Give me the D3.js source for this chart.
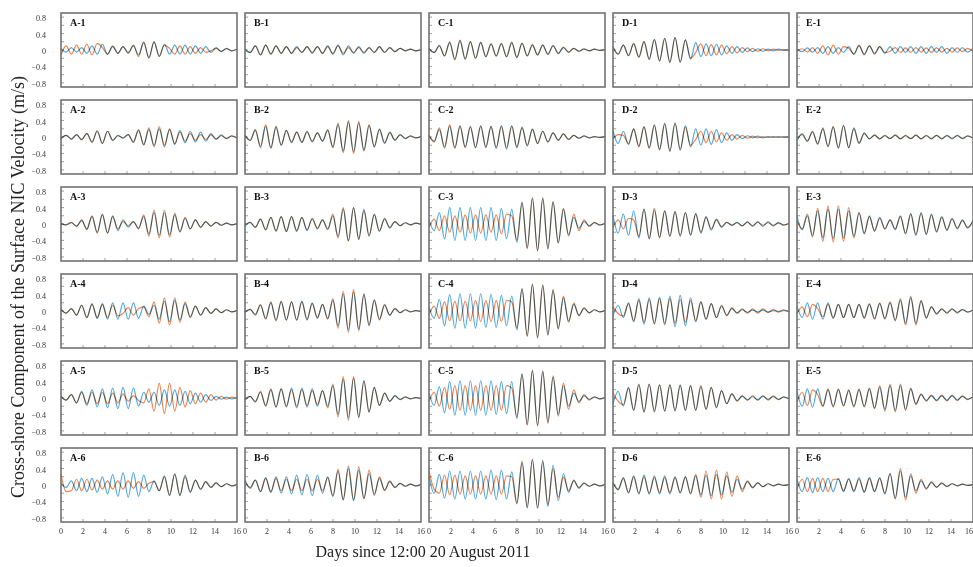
<!DOCTYPE html>
<html>
<head>
<meta charset="utf-8">
<script src="https://cdn.jsdelivr.net/npm/d3@7"></script>
<style>
  body { margin: 0; background: #fff; }
  svg { display: block; }
  text { font-family: "Liberation Serif", "Times New Roman", serif; }
</style>
</head>
<body>
<div id="chart"></div>
<script>
const columns = ['A', 'B', 'C', 'D', 'E'];
const rowNums = [1, 2, 3, 4, 5, 6];
const xTicks = [0, 2, 4, 6, 8, 10, 12, 14, 16];
const yTicks = [0.8, 0.4, 0, -0.4, -0.8];
const yMinorTicks = [0.8, 0.6, 0.4, 0.2, 0, -0.2, -0.4, -0.6, -0.8];

// times (days) of successive crests / troughs, shared by all series
const days = [0, 0.47, 0.94, 1.41, 1.88, 2.35, 2.82, 3.29, 3.76, 4.23, 4.7, 5.17, 5.64, 6.11, 6.58, 7.05, 7.52, 7.99,
  8.46, 8.93, 9.4, 9.87, 10.34, 10.81, 11.28, 11.75, 12.22, 12.69, 13.16, 13.63, 14.1, 14.57, 15.04, 15.51, 15.98];

// crest / trough values in cm/s
const A1_blue = [4,-5,6,-5,6,-8,10,-10,14,-10,8,-8,8,-6,10,-12,18,-18,20,-15,14,-10,12,-10,12,-10,10,-8,8,-6,6,-4,4,-2,2];
const A1_orange = [-12,10,-10,12,-10,14,-12,16,6,-10,10,-8,8,-8,12,-16,20,-20,20,-16,12,4,-10,10,-10,8,-8,6,-6,-2,4,-3,3,-2,2];
const B1_blue = [3,-6,10,-12,12,-10,10,-8,8,-8,8,-6,8,-8,8,-8,10,-10,12,-12,10,-8,8,-8,6,-6,8,-6,6,-4,4,-2,2,-2,1];
const B1_orange = [-2,-6,10,-12,12,-10,10,-8,8,-8,6,-6,8,-6,8,-8,8,-8,10,-8,6,-6,6,-6,6,-6,8,-6,6,-4,4,-2,2,-2,1];
const C1_blue = [3,-6,10,-14,18,-22,22,-22,20,-20,18,-16,15,-14,15,-16,18,-18,16,-14,12,-12,12,-10,10,-8,6,-5,4,-3,2,-2,2,-1,1];
const C1_orange = [4,-6,11,-15,20,-24,24,-22,21,-20,19,-17,15,-15,16,-17,19,-18,17,-15,13,-12,12,-11,11,-9,7,-6,4,-3,3,-2,2,-1,1];
const D1_blue = [8,-10,12,-14,15,-17,20,-22,25,-26,28,-30,30,-30,25,-22,18,-16,15,-14,14,-12,10,-8,8,-6,5,-4,3,-3,2,-2,2,-1,1];
const D1_orange = [6,-10,12,-13,16,-18,21,-23,26,-27,29,-30,31,-29,24,-20,-6,15,-14,13,-12,12,-9,8,-7,6,-4,4,-3,3,-2,2,-1,1,-1];
const E1_blue = [2,-4,5,-5,6,-8,8,-8,6,-6,8,-10,10,-10,10,-8,8,-8,8,-8,8,-6,8,-8,8,-8,8,-6,8,-8,6,-6,6,-5,4];
const E1_orange = [-2,3,-5,6,-8,10,-12,12,-10,8,4,-10,12,-12,10,-10,8,-6,-3,6,-6,5,-6,6,-5,5,-6,5,-5,4,-5,5,-4,4,-3];

const A2_blue = [-4,4,-5,5,-6,8,-12,14,-15,14,-8,4,-3,6,-12,16,-18,18,-20,20,-20,18,-18,16,-14,14,-12,12,-10,8,-6,5,-4,3,-2];
const A2_orange = [-3,4,-5,6,-7,9,-13,15,-16,14,-8,3,-2,6,-13,18,-20,22,-24,25,-24,20,-16,12,-10,8,-8,6,-6,5,-4,3,-3,2,-2];
const B2_blue = [4,-8,16,-22,26,-26,24,-20,16,-14,12,-14,14,-12,10,-10,16,-24,30,-34,36,-36,34,-32,28,-24,20,-16,12,-8,6,-4,3,-2,1];
const B2_orange = [4,-8,18,-26,30,-28,26,-20,16,-12,12,-12,12,-10,10,-10,18,-26,34,-38,40,-40,38,-34,30,-24,18,-14,10,-7,5,-3,2,-2,1];
const C2_blue = [3,-10,18,-24,26,-26,26,-24,24,-26,26,-24,26,-28,28,-30,28,-26,24,-22,20,-16,14,-12,10,-8,7,-6,4,-3,2,-2,1,-1,1];
const C2_orange = [4,-12,22,-28,30,-28,28,-26,26,-26,28,-26,26,-26,26,-26,26,-24,22,-20,18,-16,14,-12,10,-8,8,-6,4,-3,3,-2,1,-1,1];
const D2_blue = [14,-16,14,-18,20,-22,24,-26,28,-30,32,-34,34,-32,28,-24,20,-20,20,-18,18,-14,10,-8,6,-4,3,-2,2,-2,1,-1,1,-1,1];
const D2_orange = [-4,6,4,-16,20,-24,26,-28,30,-32,34,-35,34,-30,24,-20,-6,14,-14,14,-12,10,-8,6,-5,4,-3,2,-2,1,-1,1,-1,1,-1];
const E2_blue = [-10,8,-10,12,-16,20,-22,24,-26,28,-26,22,-16,10,-5,4,-4,3,-4,4,-4,3,-4,4,-4,3,-5,4,-5,4,-5,4,-4,3,-3];
const E2_orange = [-4,6,-10,14,-18,22,-24,26,-28,28,-26,20,-14,8,-4,5,-5,4,-4,5,-5,4,-4,5,-5,4,-4,4,-4,3,-3,3,-3,2,-2];

const A3_blue = [1,-2,3,-5,8,-12,18,-20,22,-22,20,-16,10,-8,6,-10,18,-24,28,-28,28,-26,22,-18,14,-12,10,-8,6,-5,4,-3,2,-2,1];
const A3_orange = [1,-2,4,-6,10,-14,20,-22,24,-22,18,-12,6,-4,6,-12,22,-30,34,-34,34,-32,26,-20,16,-12,10,-8,6,-5,4,-3,2,-2,1];
const B3_blue = [-5,4,-8,12,-14,16,-16,18,-18,18,-18,16,-16,14,-12,10,-12,20,-30,36,-40,40,-38,36,-30,24,-18,14,-10,6,-4,3,-2,2,-1];
const B3_orange = [-2,4,-8,12,-14,16,-18,18,-18,18,-16,16,-14,12,-10,10,-14,24,-34,40,-42,40,-36,32,-28,22,-16,12,-8,6,-4,3,-2,2,-1];
const C3_blue = [10,-16,28,-36,40,-40,40,-40,40,-40,40,-40,40,-40,38,-36,36,-44,52,-58,62,-64,62,-60,54,-46,36,-26,16,-10,6,-4,3,-2,1];
const C3_orange = [-8,12,-16,20,-20,20,-20,22,-22,22,-22,22,-20,22,-24,24,20,-40,52,-60,64,-66,64,-60,54,-46,38,-30,24,-16,10,-6,4,-3,2];
const D3_blue = [20,-22,24,-28,32,-34,36,-36,34,-32,32,-30,30,-30,28,-28,26,-22,18,-15,12,-8,4,-3,4,-5,6,-6,6,-6,6,-5,4,-3,2];
const D3_orange = [-8,10,-12,14,10,-30,36,-36,38,-34,32,-30,30,-28,28,-26,24,-20,16,-12,10,-6,4,-3,3,-4,4,-4,4,-3,3,-3,2,-2,1];
const E3_blue = [18,-14,20,-28,32,-34,36,-36,36,-34,32,-30,28,-24,20,-18,16,-12,10,-14,20,-24,26,-28,28,-26,24,-20,18,-16,14,-12,10,-10,8];
const E3_orange = [8,-12,24,-32,38,-42,44,-44,44,-42,40,-34,28,-22,18,-16,14,-12,10,-12,18,-22,24,-26,26,-24,22,-18,16,-14,12,-10,8,-8,6];

const A4_blue = [4,-5,6,-10,14,-16,18,-18,18,-20,20,-20,20,-20,20,-18,12,-8,14,-20,24,-26,26,-22,18,-14,12,-10,8,-6,5,-4,3,-2,1];
const A4_orange = [4,-5,6,-10,14,-16,16,-16,16,-16,14,-12,-6,8,-10,6,10,-14,22,-30,32,-34,32,-28,22,-16,12,-10,8,-6,5,-4,3,-2,1];
const B4_blue = [-3,4,-8,14,-18,20,-22,22,-22,22,-22,24,-22,20,-18,16,-18,26,-36,42,-46,46,-44,40,-34,26,-20,14,-10,6,-4,3,-2,1,-1];
const B4_orange = [-2,4,-10,16,-20,22,-24,24,-22,22,-22,22,-20,18,-16,16,-20,30,-42,48,-52,52,-48,42,-36,28,-22,16,-10,6,-4,3,-2,1,-1];
const C4_blue = [10,-18,28,-36,40,-42,42,-42,42,-42,42,-40,40,-40,38,-36,36,-46,54,-60,64,-64,62,-58,50,-42,32,-24,16,-10,6,-4,3,-2,1];
const C4_orange = [-8,12,-18,22,-24,24,-24,24,-24,26,-26,26,-26,26,-26,26,22,-42,54,-62,66,-66,64,-58,52,-44,36,-28,20,-12,8,-5,3,-2,1];
const D4_blue = [-12,14,-16,20,-26,30,-32,32,-32,34,-34,36,-38,38,-36,32,-26,22,-20,18,-16,12,-10,6,-4,3,-3,2,-2,2,-2,1,-1,1,-1];
const D4_orange = [10,-6,-12,18,-24,26,-28,28,-30,30,-30,30,-30,28,-28,26,-24,22,-20,18,-16,14,-12,8,-6,5,-5,5,-5,5,-4,4,-3,3,-2];
const E4_blue = [12,-16,20,-20,20,-20,20,-18,16,-16,16,-16,16,-16,16,-18,18,-18,20,-22,26,-30,32,-30,24,-16,10,-8,6,-6,6,-5,4,-3,2];
const E4_orange = [-6,10,-14,16,6,-14,16,-16,16,-16,16,-16,16,-18,18,-20,20,-20,22,-24,30,-34,36,-34,26,-18,10,-6,4,-4,4,-3,3,-2,2];

const A5_blue = [4,-5,8,-12,16,-18,20,-22,22,-24,24,-26,26,-26,24,-20,14,-10,14,-18,20,-20,20,-18,16,-14,12,-10,8,-6,4,-3,2,-2,1];
const A5_orange = [3,-5,8,-12,14,-14,14,-14,14,-14,12,-12,10,-8,6,-6,-12,22,-32,36,-38,36,-32,26,-22,18,-14,12,-10,8,-5,4,-3,2,-1];
const B5_blue = [-6,4,-8,14,-18,20,-22,22,-22,24,-24,24,-22,22,-20,18,-20,30,-40,46,-48,48,-46,42,-34,26,-18,12,-8,6,-4,3,-2,1,-1];
const B5_orange = [-3,4,-10,16,-20,22,-22,22,-20,20,-20,20,-18,18,-16,18,-24,34,-46,52,-54,52,-48,42,-34,26,-18,12,-8,5,-3,2,-2,1,-1];
const C5_blue = [12,-18,28,-36,40,-42,42,-42,42,-42,42,-42,42,-40,40,-38,40,-50,58,-64,66,-66,64,-58,50,-40,30,-20,12,-8,5,-3,2,-2,1];
const C5_orange = [-8,14,-20,26,-28,30,-30,30,-30,30,-30,30,-30,30,-30,30,24,-46,58,-66,68,-68,66,-62,54,-44,36,-28,20,-12,8,-5,3,-2,1];
const D5_blue = [-14,16,-20,26,-30,34,-34,34,-32,32,-32,32,-32,32,-30,30,-30,28,-28,26,-24,18,-14,10,-6,4,-4,3,-4,4,-3,3,-3,2,-2];
const D5_orange = [12,-8,-16,24,-30,32,-34,34,-34,32,-32,32,-30,30,-30,30,-30,30,-28,26,-22,18,-14,10,-8,6,-6,6,-6,6,-5,5,-4,3,-2];
const E5_blue = [16,-20,22,-22,22,-20,20,-20,20,-18,18,-20,20,-20,22,-24,26,-28,30,-30,30,-28,22,-14,8,-6,5,-5,5,-5,5,-5,4,-3,2];
const E5_orange = [-10,14,-18,20,8,-20,22,-22,22,-20,20,-22,22,-22,24,-26,30,-32,34,-34,34,-30,24,-16,10,-8,7,-7,7,-7,7,-6,5,-4,3];

const A6_blue = [4,-6,10,-14,16,-16,16,-18,20,-22,26,-28,30,-30,30,-28,24,-16,10,-14,22,-26,28,-26,24,-18,12,-10,8,-6,5,-4,3,-2,1];
const A6_orange = [26,-16,-14,14,-14,14,-12,12,-10,10,-10,10,-10,10,-8,8,-8,4,8,-14,20,-24,26,-24,20,-16,12,-10,8,-6,5,-4,3,-2,1];
const B6_blue = [12,-8,12,-16,18,-18,20,-20,20,-22,24,-24,26,-26,24,-20,20,-28,34,-36,40,-38,36,-32,28,-22,16,-12,8,-6,4,-3,2,-2,1];
const B6_orange = [8,-6,12,-16,16,-16,16,-14,14,-14,14,-14,14,-14,14,-14,18,-26,38,-36,46,-36,44,-34,36,-26,20,-14,10,-6,4,-3,2,-2,1];
const C6_blue = [20,-20,26,-32,34,-34,34,-34,34,-34,34,-34,36,-36,36,-34,32,-44,54,-56,62,-56,60,-52,48,-38,28,-18,12,-8,5,-3,2,-2,1];
const C6_orange = [34,-10,-20,24,-24,24,-22,22,-22,22,-22,22,-22,22,-22,22,20,-46,58,-54,62,-56,56,-48,40,-30,20,-14,10,-6,4,-3,2,-2,1];
const D6_blue = [6,-12,18,-20,22,-22,24,-22,22,-22,22,-22,20,-20,20,-20,22,-24,24,-26,26,-24,22,-18,14,-10,8,-6,5,-4,3,-2,2,-1,1];
const D6_orange = [4,-10,16,-18,20,-20,20,-20,18,-18,18,-18,18,-18,20,-22,26,-30,34,-34,36,-34,32,-28,22,-16,10,-7,5,-4,3,-2,2,-1,1];
const E6_blue = [14,-16,18,-18,18,-16,16,-16,16,-16,16,-16,18,-18,18,-16,18,-22,28,-32,34,-30,22,-14,10,-8,6,-5,4,-3,3,-2,2,-1,1];
const E6_orange = [-10,14,-16,16,-16,16,-16,14,14,-14,14,-14,14,-16,16,-16,16,-20,28,-34,40,-36,28,-20,14,-10,8,-6,5,-4,3,-2,2,-1,1];

const panelSeries = {
  'A-1': [A1_blue, A1_orange], 'B-1': [B1_blue, B1_orange], 'C-1': [C1_blue, C1_orange], 'D-1': [D1_blue, D1_orange], 'E-1': [E1_blue, E1_orange],
  'A-2': [A2_blue, A2_orange], 'B-2': [B2_blue, B2_orange], 'C-2': [C2_blue, C2_orange], 'D-2': [D2_blue, D2_orange], 'E-2': [E2_blue, E2_orange],
  'A-3': [A3_blue, A3_orange], 'B-3': [B3_blue, B3_orange], 'C-3': [C3_blue, C3_orange], 'D-3': [D3_blue, D3_orange], 'E-3': [E3_blue, E3_orange],
  'A-4': [A4_blue, A4_orange], 'B-4': [B4_blue, B4_orange], 'C-4': [C4_blue, C4_orange], 'D-4': [D4_blue, D4_orange], 'E-4': [E4_blue, E4_orange],
  'A-5': [A5_blue, A5_orange], 'B-5': [B5_blue, B5_orange], 'C-5': [C5_blue, C5_orange], 'D-5': [D5_blue, D5_orange], 'E-5': [E5_blue, E5_orange],
  'A-6': [A6_blue, A6_orange], 'B-6': [B6_blue, B6_orange], 'C-6': [C6_blue, C6_orange], 'D-6': [D6_blue, D6_orange], 'E-6': [E6_blue, E6_orange]
};
const lineColors = ['#52a9e2', '#f2844f'];

const width = 973, height = 567;
const left0 = 61, top0 = 13, colStep = 184, rowStep = 87;
const pw = 176, ph = 74;

const svg = d3.select('#chart').append('svg')
  .attr('width', width)
  .attr('height', height);

const x = d3.scaleLinear().domain([0, 16]).range([0, pw]);
const y = d3.scaleLinear().domain([-0.9, 0.9]).range([ph, 0]);

const line = d3.line()
  .x((d, i) => x(days[i]))
  .y(d => y(d / 100))
  .curve(d3.curveMonotoneX);

rowNums.forEach((r, ri) => {
  columns.forEach((c, ci) => {
    const key = c + '-' + r;
    const g = svg.append('g')
      .attr('transform', 'translate(' + (left0 + ci * colStep) + ',' + (top0 + ri * rowStep) + ')');

    // inward ticks
    g.selectAll('.xt').data(xTicks.slice(1, -1)).enter().append('line')
      .attr('x1', d => x(d)).attr('x2', d => x(d))
      .attr('y1', ph).attr('y2', ph - 3)
      .attr('stroke', '#888').attr('stroke-width', 0.8);
    g.selectAll('.yt').data(yMinorTicks).enter().append('line')
      .attr('x1', 0).attr('x2', 3)
      .attr('y1', d => y(d)).attr('y2', d => y(d))
      .attr('stroke', '#888').attr('stroke-width', 0.8);

    g.selectAll('path.series').data(panelSeries[key]).enter().append('path')
      .attr('class', 'series')
      .attr('d', line)
      .attr('fill', 'none')
      .attr('stroke', (d, i) => lineColors[i])
      .attr('stroke-width', 1.2)
      .style('mix-blend-mode', 'multiply');

    g.append('rect')
      .attr('width', pw).attr('height', ph)
      .attr('fill', 'none')
      .attr('stroke', '#6a6a6a')
      .attr('stroke-width', 1.5);

    g.append('text')
      .attr('x', 9).attr('y', 13)
      .attr('font-size', 10).attr('font-weight', 'bold')
      .attr('fill', '#111')
      .text(key);

    if (ci === 0) {
      g.selectAll('.yl').data(yTicks).enter().append('text')
        .attr('x', -15).attr('y', d => y(d))
        .attr('dy', '0.5em')
        .attr('text-anchor', 'end')
        .attr('font-size', 8)
        .attr('fill', '#333')
        .text(d => d === 0 ? '0' : d3.format('.1f')(d));
    }
    if (ri === rowNums.length - 1) {
      const lastCol = ci === columns.length - 1;
      g.selectAll('.xl').data(xTicks).enter().append('text')
        .attr('x', d => x(d)).attr('y', ph + 12)
        .attr('text-anchor', d => (lastCol && d === 16) ? 'end' : 'middle')
        .attr('font-size', 8)
        .attr('fill', '#333')
        .text(d => d);
    }
  });
});

svg.append('text')
  .attr('transform', 'translate(24,287) rotate(-90)')
  .attr('text-anchor', 'middle')
  .attr('font-size', 18)
  .attr('fill', '#222')
  .text('Cross-shore Component of the Surface NIC Velocity (m/s)');

svg.append('text')
  .attr('x', 423).attr('y', 557)
  .attr('text-anchor', 'middle')
  .attr('font-size', 16)
  .attr('fill', '#222')
  .text('Days since 12:00 20 August 2011');
</script>
</body>
</html>
